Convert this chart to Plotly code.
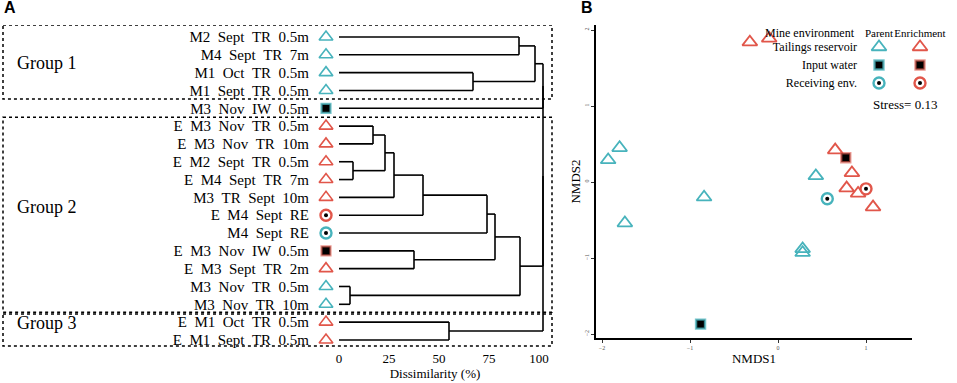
import plotly.graph_objects as go

W, H = 957, 383

def px(x):
    return x / W

def py(y):
    return 1 - y / H

# ---------------- DATA ----------------
leaf_labels = [
    "M2 Sept TR 0.5m", "M4 Sept TR 7m", "M1 Oct TR 0.5m", "M1 Sept TR 0.5m",
    "M3 Nov IW 0.5m", "E M3 Nov TR 0.5m", "E M3 Nov TR 10m", "E M2 Sept TR 0.5m",
    "E M4 Sept TR 7m", "M3 TR Sept 10m", "E M4 Sept RE", "M4 Sept RE",
    "E M3 Nov IW 0.5m", "E M3 Sept TR 2m", "M3 Nov TR 0.5m", "M3 Nov TR 10m",
    "E M1 Oct TR 0.5m", "E M1 Sept TR 0.5m",
]
leaf_origin = ["P", "P", "P", "P", "P", "E", "E", "E", "E", "E", "E", "P",
               "E", "E", "P", "P", "E", "E"]
leaf_type = ["TR", "TR", "TR", "TR", "IW", "TR", "TR", "TR", "TR", "TR", "RE", "RE",
             "IW", "TR", "TR", "TR", "TR", "TR"]

# merges: (child a, child b, dissimilarity %) ; ids >= 18 are earlier merges
merges = [
    (0, 1, 90), (2, 3, 67), (18, 19, 98),
    (5, 6, 17), (7, 8, 7), (21, 22, 23), (23, 9, 27.5), (24, 10, 42),
    (25, 11, 74), (12, 13, 37.5), (26, 27, 78), (14, 15, 5.5), (28, 29, 90.5),
    (16, 17, 55),
    (20, 4, 102), (32, 30, 102), (33, 31, 102),
]
groups = [("Group 1", 0, 3), ("Group 2", 5, 15), ("Group 3", 16, 17)]
diss_ticks = [0, 25, 50, 75, 100]

# NMDS ordination
parent_tri_x = [-1.93, -1.80, -0.84, -1.74, 0.43, 0.28, 0.28]
parent_tri_y = [0.29, 0.45, -0.20, -0.54, 0.08, -0.88, -0.93]
parent_sq_x, parent_sq_y = [-0.88], [-1.87]
parent_ci_x, parent_ci_y = [0.56], [-0.22]
enr_tri_x = [-0.32, -0.10, 0.65, 0.84, 0.78, 0.91, 1.08]
enr_tri_y = [1.84, 1.89, 0.42, 0.12, -0.08, -0.15, -0.33]
enr_sq_x, enr_sq_y = [0.77], [0.32]
enr_ci_x, enr_ci_y = [1.00], [-0.09]
nmds_ticks = [-2, -1, 0, 1, 2]
stress = 0.13

legend_rows = ["Tailings reservoir", "Input water", "Receiving env."]
legend_cols = ["Parent", "Enrichment"]

# ---------------- STYLE ----------------
CYAN = "#47B3BC"
RED = "#E1564A"
CYAN_B = "rgba(71,179,188,0.75)"
RED_B = "rgba(225,86,74,0.6)"
SERIF = "Liberation Serif"
SANS = "Liberation Sans"

fig = go.Figure()

# ---------------- PANEL A: dendrogram ----------------
n = len(leaf_labels)
ypos = {i: i for i in range(n)}
hgt = {i: 0 for i in range(n)}
lx, ly = [], []
for k, (a, b, h) in enumerate(merges):
    cid = n + k
    for c in (a, b):
        lx += [hgt[c], h, None]
        ly += [ypos[c], ypos[c], None]
    lx += [h, h, None]
    ly += [ypos[a], ypos[b], None]
    ypos[cid] = (ypos[a] + ypos[b]) / 2
    hgt[cid] = h

fig.add_trace(go.Scatter(x=lx, y=ly, mode="lines", line=dict(color="black", width=1.6),
                         xaxis="x", yaxis="y", hoverinfo="skip", showlegend=False))

MARK_X = -6.5
for i in range(n):
    col = CYAN if leaf_origin[i] == "P" else RED
    bcol = CYAN_B if leaf_origin[i] == "P" else RED_B
    t = leaf_type[i]
    if t == "TR":
        m = dict(symbol="triangle-up-open", size=12, color=col, line=dict(color=col, width=1.6))
    elif t == "IW":
        m = dict(symbol="square", size=9, color="black", line=dict(color=bcol, width=2.2))
    else:
        m = dict(symbol="circle", size=11, color="white", line=dict(color=col, width=2.4))
    fig.add_trace(go.Scatter(x=[MARK_X], y=[i], mode="markers", marker=m, cliponaxis=False,
                             xaxis="x", yaxis="y", showlegend=False, hoverinfo="skip"))
    if t == "RE":
        fig.add_trace(go.Scatter(x=[MARK_X], y=[i], mode="markers",
                                 marker=dict(symbol="circle", size=4, color="black"),
                                 cliponaxis=False, xaxis="x", yaxis="y",
                                 showlegend=False, hoverinfo="skip"))

# group boxes
box_pad = {"Group 1": (-0.67, 0.48), "Group 2": (-0.5, 0.45), "Group 3": (-0.45, 0.34)}
for name, r0, r1 in groups:
    p0, p1 = box_pad[name]
    fig.add_shape(type="rect", xref="paper", yref="y", x0=px(3), x1=px(552),
                  y0=r0 + p0, y1=r1 + p1, line=dict(color="black", width=1.5, dash="dot"))
group_label_y = {"Group 1": 63, "Group 2": 207, "Group 3": 323}
for name, r0, r1 in groups:
    fig.add_annotation(text=name, xref="paper", yref="paper", x=px(15), y=py(group_label_y[name]),
                       xanchor="left", yanchor="middle", showarrow=False,
                       font=dict(family=SERIF, size=18, color="black"))

# ---------------- PANEL B: NMDS ----------------
def tri(x, y, col, xa="x2", ya="y2"):
    return go.Scatter(x=x, y=y, mode="markers", xaxis=xa, yaxis=ya, cliponaxis=False,
                      marker=dict(symbol="triangle-up-open", size=13, color=col,
                                  line=dict(color=col, width=1.8)),
                      showlegend=False, hoverinfo="skip")

def sq(x, y, bcol, xa="x2", ya="y2"):
    return go.Scatter(x=x, y=y, mode="markers", xaxis=xa, yaxis=ya, cliponaxis=False,
                      marker=dict(symbol="square", size=9, color="black",
                                  line=dict(color=bcol, width=2.4)),
                      showlegend=False, hoverinfo="skip")

def ci(x, y, col, xa="x2", ya="y2"):
    return [go.Scatter(x=x, y=y, mode="markers", xaxis=xa, yaxis=ya, cliponaxis=False,
                       marker=dict(symbol="circle", size=11, color="white",
                                   line=dict(color=col, width=2.4)),
                       showlegend=False, hoverinfo="skip"),
            go.Scatter(x=x, y=y, mode="markers", xaxis=xa, yaxis=ya, cliponaxis=False,
                       marker=dict(symbol="circle", size=4, color="black"),
                       showlegend=False, hoverinfo="skip")]

fig.add_trace(tri(parent_tri_x, parent_tri_y, CYAN))
fig.add_trace(tri(enr_tri_x, enr_tri_y, RED))
fig.add_trace(sq(parent_sq_x, parent_sq_y, CYAN_B))
fig.add_trace(sq(enr_sq_x, enr_sq_y, RED_B))
for t in ci(parent_ci_x, parent_ci_y, CYAN) + ci(enr_ci_x, enr_ci_y, RED):
    fig.add_trace(t)

# legend grid (own axes)
for j, (col, bcol) in enumerate([(CYAN, CYAN_B), (RED, RED_B)]):
    fig.add_trace(tri([j], [0], col, "x3", "y3"))
    fig.add_trace(sq([j], [1], bcol, "x3", "y3"))
    for t in ci([j], [2], col, "x3", "y3"):
        fig.add_trace(t)

fig.add_annotation(text="Mine environment", xref="paper", yref="paper", x=px(810), y=py(33),
                   xanchor="center", yanchor="middle", showarrow=False,
                   font=dict(family=SERIF, size=12, color="black"))
fig.add_annotation(text=f"Stress= {stress:.2f}", xref="paper", yref="paper", x=px(905), y=py(104),
                   xanchor="center", yanchor="middle", showarrow=False,
                   font=dict(family=SERIF, size=13, color="black"))

# panel letters
fig.add_annotation(text="<b>A</b>", xref="paper", yref="paper", x=px(2), y=py(8),
                   xanchor="left", yanchor="middle", showarrow=False,
                   font=dict(family=SANS, size=16, color="black"))
fig.add_annotation(text="<b>B</b>", xref="paper", yref="paper", x=px(579), y=py(8),
                   xanchor="left", yanchor="middle", showarrow=False,
                   font=dict(family=SANS, size=16, color="black"))

# ---------------- AXES ----------------
# panel A: 2 px per %, 0 at x=339
ax_x0, ax_x1 = 310, 560
a_scale, a_zero = 2.0, 339
row_top, row_step = 37, 17.82
ay_top, ay_bot = 25, 349

lg_top, lg_bot = 40, 92
lg_c0, lg_c1 = 879, 920

fig.update_layout(
    width=W, height=H, autosize=False,
    margin=dict(l=0, r=0, t=0, b=0),
    paper_bgcolor="white", plot_bgcolor="white",
    xaxis=dict(domain=[px(ax_x0), px(ax_x1)],
               range=[(ax_x0 - a_zero) / a_scale, (ax_x1 - a_zero) / a_scale],
               tickvals=diss_ticks, ticks="", showline=False, showgrid=False, zeroline=False,
               tickfont=dict(family=SERIF, size=13, color="black"),
               title=dict(text="Dissimilarity (%)", font=dict(family=SERIF, size=13, color="black"),
                          standoff=2),
               anchor="y", fixedrange=True),
    yaxis=dict(domain=[py(ay_bot), py(ay_top)],
               range=[(n - 1) + (ay_bot - (row_top + (n - 1) * row_step)) / row_step,
                      -(row_top - ay_top) / row_step],
               tickvals=list(range(n)),
               ticktext=[s.replace(" ", "\u00a0\u00a0") for s in leaf_labels],
               ticks="", showline=False, showgrid=False, zeroline=False,
               tickfont=dict(family=SERIF, size=15, color="black"),
               anchor="x", fixedrange=True),
    # panel B: 88 px per unit in x (0 at 778), 76 px per unit in y (0 at 182)
    xaxis2=dict(domain=[px(596), px(912)],
                range=[(596 - 778) / 88, (912 - 778) / 88],
                tickvals=nmds_ticks[:-1], ticks="outside", ticklen=3, tickcolor="#333",
                showline=True, linecolor="black", linewidth=1.5, mirror=False,
                showgrid=False, zeroline=False,
                tickfont=dict(family=SERIF, size=6, color="#555"),
                title=dict(text="NMDS1", font=dict(family=SERIF, size=13, color="black"), standoff=4),
                anchor="y2", fixedrange=True),
    yaxis2=dict(domain=[py(338), py(25)],
                range=[-(338 - 182) / 76, (182 - 25) / 76],
                tickvals=nmds_ticks, ticks="outside", ticklen=3, tickcolor="#333", tickangle=-90,
                showline=True, linecolor="black", linewidth=1.5,
                showgrid=False, zeroline=False,
                tickfont=dict(family=SERIF, size=6, color="#555"),
                title=dict(text="NMDS2", font=dict(family=SERIF, size=13, color="black"), standoff=0),
                anchor="x2", fixedrange=True),
    # legend grid
    xaxis3=dict(domain=[px(858), px(945)],
                range=[(858 - lg_c0) / (lg_c1 - lg_c0), 1 + (945 - lg_c1) / (lg_c1 - lg_c0)],
                tickvals=[0, 1], ticktext=legend_cols, side="top", ticks="", tickangle=0,
                showline=False, showgrid=False, zeroline=False,
                tickfont=dict(family=SERIF, size=11, color="black"),
                anchor="y3", fixedrange=True),
    yaxis3=dict(domain=[py(lg_bot), py(lg_top)],
                range=[2 + (lg_bot - 83) / 18, -(47 - lg_top) / 18],
                tickvals=[0, 1, 2], ticktext=legend_rows, ticks="",
                showline=False, showgrid=False, zeroline=False,
                tickfont=dict(family=SERIF, size=12, color="black"),
                anchor="x3", fixedrange=True),
)

fig.write_html("out.html", config={"displayModeBar": False},
               post_script=("document.body.style.margin='0px';"
                            "document.body.style.overflow='hidden';"
                            "document.documentElement.style.overflow='hidden';"))
